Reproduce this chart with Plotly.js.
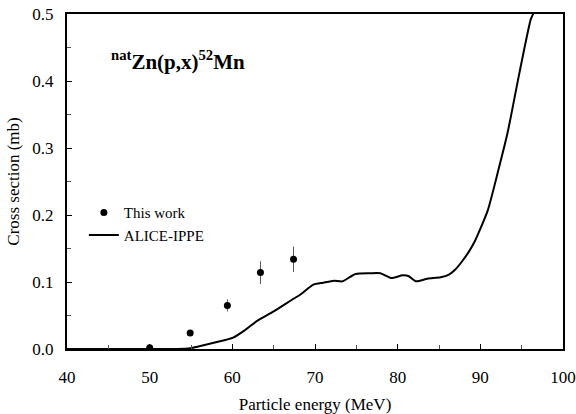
<!DOCTYPE html>
<html>
<head>
<meta charset="utf-8">
<script src="https://cdn.plot.ly/plotly-3.0.1.min.js"></script>
<style>html,body{margin:0;padding:0;background:#fff;}#chart{width:576px;height:414px;}</style>
</head>
<body>
<div id="chart"></div>
<script>
// Measured data (This work)
const expEnergy = [50.0, 54.9, 59.4, 63.4, 67.4];
const expXs     = [0.002, 0.024, 0.065, 0.114, 0.134];
const expErr    = [0.001, 0.002, 0.009, 0.017, 0.019];

// ALICE-IPPE calculation
const calcEnergy = [40, 45, 50, 52, 53.3, 54.9, 56, 58, 60.1, 61.5, 63, 65, 67.4, 68.2, 69.8, 71, 72.3, 73.3, 74.9, 76.7, 77.9, 79.2, 80.6, 81.3, 82.2, 83.6, 85.2, 86.2, 87.0, 87.8, 88.6, 89.3, 90.9, 92.1, 93.3, 94.5, 95.3, 96.1, 96.5];
const calcXs     = [0, 0, 0, 0, 0, 0.001, 0.004, 0.010, 0.017, 0.028, 0.042, 0.056, 0.075, 0.081, 0.096, 0.099, 0.102, 0.101, 0.112, 0.113, 0.113, 0.106, 0.110, 0.109, 0.101, 0.105, 0.107, 0.111, 0.119, 0.131, 0.145, 0.160, 0.207, 0.263, 0.323, 0.398, 0.447, 0.492, 0.503];

const xTickVals = [40, 50, 60, 70, 80, 90, 100];
const yTickVals = [0, 0.1, 0.2, 0.3, 0.4, 0.5];
const yTickText = ['0.0', '0.1', '0.2', '0.3', '0.4', '0.5'];

const fam = 'Liberation Serif, Times New Roman, serif';
const tickFont = {family: fam, size: 17, color: '#000'};
const titleFont = {family: fam, size: 17, color: '#000'};

const traces = [
  {
    x: expEnergy, y: expXs, name: 'This work', type: 'scatter', mode: 'markers',
    marker: {symbol: 'circle', size: 7, color: '#000'},
    error_y: {type: 'data', array: expErr, visible: true, width: 0, thickness: 1, color: '#555'}
  },
  {
    x: calcEnergy, y: calcXs, name: 'ALICE-IPPE', type: 'scatter', mode: 'lines',
    line: {color: '#000', width: 2, shape: 'spline', smoothing: 0.6},
    cliponaxis: true
  }
];

const layout = {
  width: 576, height: 414,
  margin: {l: 67, r: 13, t: 14, b: 65},
  paper_bgcolor: '#fff', plot_bgcolor: '#fff',
  font: tickFont,
  showlegend: true,
  legend: {x: 0.034, y: 0.456, xanchor: 'left', yanchor: 'top', bgcolor: 'rgba(0,0,0,0)',
           font: {family: fam, size: 15, color: '#000'}, tracegroupgap: 0, itemwidth: 30},
  xaxis: {
    range: [40, 100], tickvals: xTickVals, ticks: 'inside', ticklen: 5, tickcolor: '#000',
    showline: true, linecolor: '#000', linewidth: 2, mirror: true, showgrid: false, zeroline: false,
    tickfont: tickFont, ticklabelstandoff: 12,
    minor: {dtick: 5, tick0: 40, ticks: 'inside', ticklen: 4, tickcolor: '#555', showgrid: false},
    title: {text: 'Particle energy (MeV)', font: titleFont, standoff: 12}
  },
  yaxis: {
    range: [0, 0.5], tickvals: yTickVals, ticktext: yTickText, ticks: 'inside', ticklen: 5, tickcolor: '#000',
    showline: true, linecolor: '#000', linewidth: 2, mirror: true, showgrid: false, zeroline: false,
    tickfont: tickFont, ticklabelstandoff: 8,
    minor: {dtick: 0.05, tick0: 0, ticks: 'inside', ticklen: 4, tickcolor: '#555', showgrid: false},
    title: {text: 'Cross section (mb)', font: titleFont, standoff: 8}
  },
  annotations: [{
    xref: 'paper', yref: 'paper', x: 0.085, y: 0.86, xanchor: 'left', yanchor: 'middle', showarrow: false,
    text: '<b><sup>nat</sup>Zn(p,x)<sup>52</sup>Mn</b>',
    font: {family: fam, size: 21, color: '#000'}
  }]
};

Plotly.newPlot('chart', traces, layout, {displayModeBar: false, staticPlot: true});
</script>
</body>
</html>
